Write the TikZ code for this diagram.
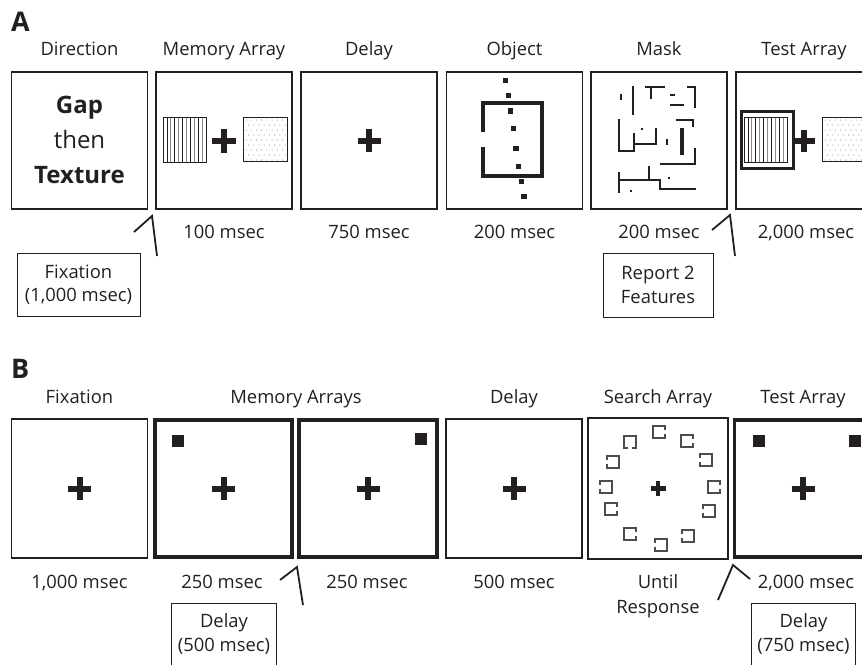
\documentclass[tikz,border=0pt]{standalone}
\usepackage{fontspec}
\setmainfont{Open Sans}
\usepackage{tikz}
\usetikzlibrary{positioning, calc}
\definecolor{ink}{RGB}{35,31,32}
\definecolor{stripe-gray}{RGB}{140,140,140}

\tikzset{
  screen/.style={draw=ink, line width=1.6pt, minimum width=136pt, minimum height=137pt, inner sep=0pt},
  boldscreen/.style={screen, line width=3.2pt},
  caption/.style={anchor=base, inner sep=0pt, text=ink, font=\fontsize{18.4}{21}\selectfont},
  notebox/.style={draw=ink, line width=1pt, align=center, inner sep=0pt, text=ink, font=\fontsize{18.4}{23.5}\selectfont},
  tick/.style={draw=ink, line width=1.8pt, line join=miter},
  maskline/.style={ink, line width=2.2pt},
  sqline/.style={ink!80, line width=1.3pt},
  panel/.style={anchor=base west, inner sep=0pt, text=ink, font=\bfseries\fontsize{27}{27}\selectfont}
}

% fixation cross: [thickness]{node}{half length}
\newcommand{\fixcross}[3][6]{%
  \draw[ink, line width=#1pt] ([xshift=-#3pt]#2.center) -- ([xshift=#3pt]#2.center)
    ([yshift=-#3pt]#2.center) -- ([yshift=#3pt]#2.center);}
% striped texture patch, top left corner
\newcommand{\stripesq}[2]{%
  \foreach \k in {0,...,4} {
    \draw[ink, line width=0.7pt] ({#1+3.9+7.8*\k},#2) -- ++(0,45);
    \draw[stripe-gray, line width=0.9pt] ({#1+7.8+7.8*\k},#2) -- ++(0,45);
  }
  \draw[ink, line width=0.8pt] (#1,#2) rectangle ++(43,45);}
% dotted texture patch, top left corner
\newcommand{\dotsq}[2]{%
  \foreach \i in {0,...,7} \foreach \j in {0,...,8} {
    \pgfmathsetmacro\dx{mod(\j,2)*2.6}
    \fill[ink!70] ({#1+3+\dx+5.2*\i},{#2+3+5*\j}) circle (0.5);
  }
  \draw[ink, line width=0.8pt] (#1,#2) rectangle ++(44,44);}

\begin{document}
\begin{tikzpicture}[x=1pt, y=-1pt]
\useasboundingbox (0,0) rectangle (862,664);
\clip (0,0) rectangle (862,664);

% ---------- A ----------
\node[panel] (pa) at (11,31) {A};

\node[screen] (dir) at (79.5,140.5) {};
\node[screen] (memA) at (224,140.5) {};
\node[screen] (delA) at (369,140.5) {};
\node[screen] (obj) at (514.5,140.5) {};
\node[screen] (mask) at (659,140.5) {};
\node[screen] (testA) at (804,140.5) {};

\node[caption] (tdir) at (79.5,55) {Direction};
\node[caption] (tmemA) at (224,55) {Memory Array};
\node[caption] (tdelA) at (369,55) {Delay};
\node[caption] (tobj) at (514.5,55) {Object};
\node[caption] (tmask) at (659,55) {Mask};
\node[caption] (ttestA) at (804,55) {Test Array};

\node[caption] (dmemA) at (224,238) {100 msec};
\node[caption] (ddelA) at (369,238) {750 msec};
\node[caption] (dobj) at (514.5,238) {200 msec};
\node[caption] (dmask) at (659,238) {200 msec};
\node[caption] (dtestA) at (806,238) {2,000 msec};

% direction cue
\node[caption, font=\bfseries\fontsize{24}{24}\selectfont] (gap) at (79.5,113) {Gap};
\node[caption, font=\fontsize{24}{24}\selectfont] (then) at (79.5,148) {then};
\node[caption, font=\bfseries\fontsize{24}{24}\selectfont] (texture) at (79.5,183) {Texture};

% memory array
\stripesq{163}{117}
\dotsq{243}{117}
\fixcross{memA}{12}
\fixcross{delA}{11.5}

% object
\draw[ink, line width=3.3pt] (483,132) |- (542,103) |- (483,176) -- (483,147);
\foreach \px/\py in {505.7/80.7, 508.3/95.7, 510.7/111, 513.3/128.3, 516/148.7, 518.7/166.7, 521.3/181.7, 524/196.7}
  \fill[ink] ({\px-2.6},{\py-2.6}) rectangle ++(5.2,5.2);

% mask
\draw[ink, line width=1.2pt] (621,94) -- (621,100);
\draw[maskline] (633,86) -- (633,115);
\draw[maskline] (645,87) -- (665,87) (651,87) -- (651,99);
\draw[maskline] (670,95) -- (675,95);
\draw[maskline] (670,105) -- (684,105);
\draw[maskline] (687,87) -- (695,87) -- (695,108);
\draw[maskline] (619,119) -- (619,151) -- (634,151) -- (634,133);
\draw[maskline] (634,144) -- (656,144) -- (656,128);
\fill[ink] (641,128) rectangle ++(2.4,2.4);
\draw[ink, line width=1.2pt] (667,139) -- (667,145);
\draw[ink, line width=3.6pt] (682,128) -- (682,155);
\draw[maskline] (676,120) -- (693,120) -- (693,127);
\draw[maskline] (695,148) -- (695,164) -- (660,164);
\draw[maskline] (619,172) -- (619,193);
\draw[maskline] (619,180) -- (660,180) -- (660,189) -- (696,189);
\draw[maskline] (649,166) -- (649,180);
\fill[ink] (668,177) rectangle ++(2.4,2.4);
\fill[ink] (630,190) rectangle ++(2.4,2.4);

% test array
\draw[ink, line width=3pt] (741,111) rectangle (793,168);
\stripesq{744}{117}
\fixcross{testA}{11}
\dotsq{822}{117}

% inserted events
\coordinate (fixA1) at (134,232);
\coordinate (fixA2) at (152,216);
\coordinate (fixA3) at (157,256);
\draw[tick] (fixA1) -- (fixA2) -- (fixA3);
\node[notebox, minimum width=123pt, minimum height=63pt] (fixbox) at (78.5,284.5) {Fixation\\(1,000 msec)};

\coordinate (repA1) at (712,230);
\coordinate (repA2) at (730,215);
\coordinate (repA3) at (735,256);
\draw[tick] (repA1) -- (repA2) -- (repA3);
\node[notebox, minimum width=110pt, minimum height=64pt] (repbox) at (658,285) {Report 2\\Features};

% ---------- B ----------
\node[panel] (pb) at (11,378) {B};

\node[screen, minimum height=139pt] (fixB) at (79.5,488.5) {};
\node[boldscreen, minimum width=137pt] (mem1) at (223.5,488.5) {};
\node[boldscreen, minimum width=138pt] (mem2) at (368,488.5) {};
\node[screen, minimum height=139pt] (delB) at (514,488.5) {};
\node[screen, minimum width=140pt, minimum height=141pt] (search) at (658,488.5) {};
\node[boldscreen, minimum width=137pt] (testB) at (803,488.5) {};

\node[caption] (tfixB) at (79.5,403) {Fixation};
\node[caption] (tmemB) at (296,403) {Memory Arrays};
\node[caption] (tdelB) at (514,403) {Delay};
\node[caption] (tsearch) at (658,403) {Search Array};
\node[caption] (ttestB) at (803,403) {Test Array};

\node[caption] (dfixB) at (79.5,588) {1,000 msec};
\node[caption] (dmem1) at (222,588) {250 msec};
\node[caption] (dmem2) at (367,588) {250 msec};
\node[caption] (ddelB) at (514,588) {500 msec};
\node[caption] (dsearch) at (658,588) {Until};
\node[caption] (dsearch2) at (658,613) {Response};
\node[caption] (dtestB) at (806,588) {2,000 msec};

\foreach \n in {fixB, mem1, mem2, delB, testB} {\fixcross{\n}{11.5}}
\fixcross[4.5]{search}{7.5}

\fill[ink] (172,435) rectangle ++(12,12);
\fill[ink] (415,433) rectangle ++(12,12);
\fill[ink] (753,435) rectangle ++(12,12);
\fill[ink] (849,435) rectangle ++(12,12);

% search items
\foreach \sx/\sy/\rot in {659/432/0, 687/441/0, 706/460/180, 714/487/0, 709/511/180, 688/536/180,
    661/545/180, 630/534/0, 611/509/0, 606/487/180, 613/462/180, 630/442/270}
  \draw[sqline, shift={(\sx,\sy)}, rotate=\rot] (6,-2) -- (6,-6) -- (-6,-6) -- (-6,6) -- (6,6) -- (6,2);

% inserted delays
\coordinate (dlyB1a) at (280,580);
\coordinate (dlyB1b) at (297,567);
\coordinate (dlyB1c) at (303,605);
\draw[tick] (dlyB1a) -- (dlyB1b) -- (dlyB1c);
\node[notebox, draw=none, minimum width=104pt, minimum height=60pt] (dlybox1) at (224,634) {Delay\\(500 msec)};
\draw[ink, line width=1pt] ([yshift=-10pt]dlybox1.south west) |- (dlybox1.north east) -- ([yshift=-10pt]dlybox1.south east);

\coordinate (dlyB2a) at (718,600);
\coordinate (dlyB2b) at (733,565);
\coordinate (dlyB2c) at (750,579);
\draw[tick] (dlyB2a) -- (dlyB2b) -- (dlyB2c);
\node[notebox, draw=none, minimum width=103pt, minimum height=60pt] (dlybox2) at (803.5,634) {Delay\\(750 msec)};
\draw[ink, line width=1pt] ([yshift=-10pt]dlybox2.south west) |- (dlybox2.north east) -- ([yshift=-10pt]dlybox2.south east);
\end{tikzpicture}
\end{document}
